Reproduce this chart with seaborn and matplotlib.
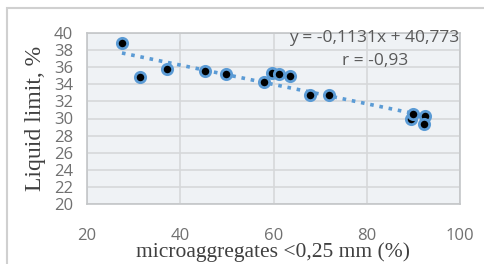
import numpy as np
import pandas as pd
import matplotlib
matplotlib.use("Agg")
import matplotlib.pyplot as plt
import seaborn as sns

micro = [27.5, 31.3, 37.2, 45.3, 49.8, 57.9, 59.7, 61.1, 63.5, 67.8, 71.9, 89.5, 90.0, 92.5, 92.3]
liquid = [38.8, 34.9, 35.8, 35.6, 35.2, 34.3, 35.3, 35.2, 35.0, 32.7, 32.7, 29.9, 30.5, 30.3, 29.4]
slope = -0.1131
intercept = 40.773
x_ticks = [20, 40, 60, 80, 100]
y_ticks = list(range(20, 41, 2))

df = pd.DataFrame({"micro": micro, "liquid": liquid})
trend_x = np.array([min(micro), max(micro)])
trend = pd.DataFrame({"x": trend_x, "y": slope * trend_x + intercept})

sns.set_theme(style="white")
plt.rcParams["font.family"] = ["Open Sans", "DejaVu Sans"]

fig = plt.figure(figsize=(4.84, 2.64), dpi=100)
ax = fig.add_axes([87 / 484, 1 - 204 / 264, (460 - 87) / 484, (204 - 33) / 264])
ax.set_facecolor("#eff2f5")

sns.lineplot(data=trend, x="x", y="y", ax=ax, color="#5b9bd5", linestyle=(0, (1, 1.6)),
             linewidth=2.6, zorder=2)
sns.scatterplot(data=df, x="micro", y="liquid", ax=ax, color="black", edgecolor="#5b9bd5",
                linewidth=2.0, s=55, zorder=3)

ax.set_xlim(20, 100)
ax.set_ylim(20, 40)
ax.set_xticks(x_ticks)
ax.set_yticks(y_ticks)
ax.grid(True, color="#d6d8da", linewidth=1.2)
ax.set_axisbelow(True)
for s in ax.spines.values():
    s.set_color("#c4c6c8")
    s.set_linewidth(1.2)
ax.tick_params(axis="both", length=0, labelsize=12, labelcolor="#707070")
ax.tick_params(axis="x", pad=17)
ax.tick_params(axis="y", pad=10)

ax.set_xlabel("microaggregates <0,25 mm (%)", family="Liberation Serif", fontsize=15.5,
              color="#404040", labelpad=-1)
ax.set_ylabel("Liquid limit, %", family="Liberation Serif", fontsize=17, color="#404040",
              labelpad=6)

fig.text(374 / 484, 1 - 38 / 264, "y = -0,1131x + 40,773", ha="center", va="center",
         fontsize=12.5, color="#595959")
fig.text(375 / 484, 1 - 61 / 264, "r = -0,93", ha="center", va="center",
         fontsize=12.5, color="#595959")

border = plt.Rectangle((7 / 484, -0.1), 1.2, 1 - 8 / 264 + 0.1, transform=fig.transFigure,
                       fill=False, edgecolor="#d0d0d0", linewidth=1.5)
fig.patches.append(border)

fig.savefig("out.png", dpi=100)
